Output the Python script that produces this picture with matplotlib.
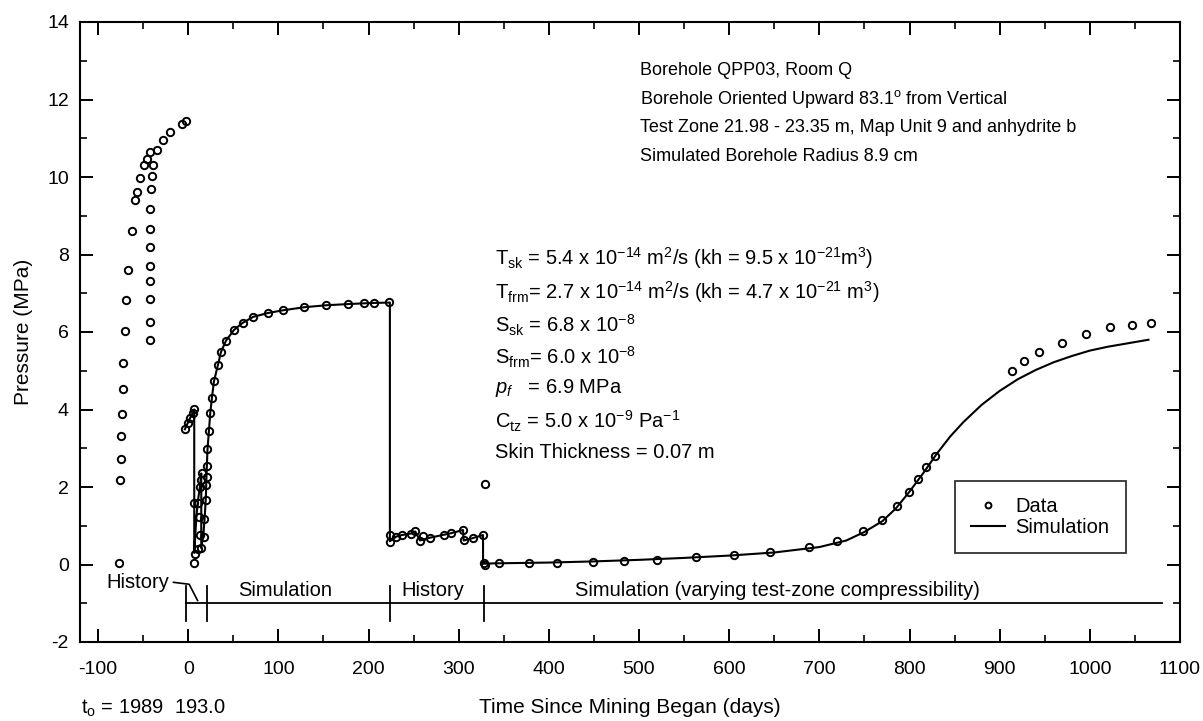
import matplotlib
matplotlib.use("Agg")
import matplotlib.pyplot as plt
from matplotlib.ticker import MultipleLocator

plt.rcParams['font.family'] = ['Liberation Sans', 'DejaVu Sans']
plt.rcParams['mathtext.fontset'] = 'custom'
plt.rcParams['mathtext.rm'] = 'Liberation Sans'
plt.rcParams['mathtext.it'] = 'Liberation Sans:italic'
plt.rcParams['mathtext.bf'] = 'Liberation Sans:bold'
plt.rcParams['axes.unicode_minus'] = False

# ---------------- data ----------------
# pre-mining build-up
pre_x = [-76.7, -75.2, -74.4, -74.1, -73.7, -72.2, -71.9, -70.4, -69.2, -66.7, -62.8,
         -58.5, -57.0, -53.3, -48.9, -45.9, -42.2, -34.1, -27.8, -20.4, -7.4, -2.6,
         -42.2, -42.6, -42.6, -42.2, -42.2, -42.2, -42.2, -42.2, -41.5, -40.4, -38.5]
pre_y = [0.03, 2.17, 2.72, 3.32, 3.88, 4.52, 5.21, 6.03, 6.83, 7.61, 8.61,
         9.40, 9.62, 9.97, 10.30, 10.46, 10.65, 10.69, 10.95, 11.15, 11.37, 11.44,
         5.79, 6.27, 6.84, 7.32, 7.71, 8.19, 8.67, 9.18, 9.68, 10.02, 10.31]
# first simulation period
early_x = [-3.7, -0.7, 1.9, 4.8, 6.7, 5.9, 7.4, 11.1, 14.1, 13.3, 17.0, 12.2, 17.8,
           6.7, 10.4, 19.6, 13.0, 19.6, 14.1, 20.7, 14.8, 20.3, 21.4, 23.0, 24.4,
           26.3, 28.5, 33.0, 36.3, 41.9, 50.7, 60.4, 72.2, 88.5, 104.8, 128.9,
           152.6, 177.0, 195.2, 205.6, 222.6]
early_y = [3.49, 3.64, 3.77, 3.90, 4.01, 0.03, 0.27, 0.39, 0.42, 0.76, 0.70, 1.23, 1.17,
           1.59, 1.59, 1.66, 1.99, 2.05, 2.18, 2.25, 2.37, 2.54, 2.97, 3.45, 3.92,
           4.29, 4.73, 5.15, 5.48, 5.78, 6.06, 6.24, 6.40, 6.49, 6.56, 6.64,
           6.70, 6.72, 6.75, 6.75, 6.77]
# history period
hist_x = [224.0, 224.0, 230.7, 237.0, 247.4, 251.9, 257.0, 260.4, 267.8, 284.0, 292.0,
          304.8, 305.5, 315.5, 327.0, 328.9]
hist_y = [0.76, 0.59, 0.72, 0.76, 0.80, 0.86, 0.61, 0.74, 0.69, 0.77, 0.81,
          0.89, 0.62, 0.68, 0.76, 2.07]
# final simulation period
late_x = [327.8, 329.0, 345.0, 378.0, 409.0, 448.7, 483.0, 520.0, 563.0, 605.0, 645.0,
          688.0, 719.5, 748.0, 770.0, 786.3, 799.5, 809.3, 818.7, 828.2, 913.3,
          927.4, 944.1, 968.9, 995.2, 1022.0, 1046.7, 1067.8]
late_y = [0.03, 0.00, 0.03, 0.03, 0.03, 0.06, 0.09, 0.12, 0.19, 0.24, 0.31,
          0.44, 0.61, 0.86, 1.14, 1.50, 1.86, 2.20, 2.52, 2.81, 4.99,
          5.24, 5.48, 5.72, 5.94, 6.13, 6.18, 6.23]

data_x = pre_x + early_x + hist_x + late_x
data_y = pre_y + early_y + hist_y + late_y

# simulation curve
sim_x = [-3.7, -0.7, 1.9, 4.8, 6.7, 6.7, 9.0, 10.5, 13.0, 14.5, 14.5, 17.0, 18.5,
         19.6, 20.3, 21.4, 23.0, 24.5, 26.3, 28.5, 33.0, 36.3, 42.0, 50.7, 60.0,
         72.0, 88.5, 105.0, 129.0, 153.0, 177.0, 195.0, 206.0, 223.7, 223.7,
         230.7, 237.0, 247.4, 251.9, 257.0, 267.8, 284.0, 292.0, 304.8, 305.5,
         315.5, 327.0, 327.0, 340.0, 400.0, 450.0, 500.0, 550.0, 600.0, 650.0,
         700.0, 730.0, 750.0, 770.0, 785.0, 800.0, 815.0, 830.0, 845.0, 860.0,
         880.0, 900.0, 920.0, 940.0, 960.0, 980.0, 1000.0, 1020.0, 1040.0, 1065.0]
sim_y = [3.49, 3.64, 3.77, 3.90, 4.00, 0.30, 1.20, 1.60, 2.00, 2.35, 0.42, 0.80, 1.30,
         1.75, 2.30, 2.97, 3.45, 3.92, 4.29, 4.72, 5.15, 5.48, 5.78, 6.05, 6.23,
         6.39, 6.49, 6.56, 6.64, 6.69, 6.72, 6.74, 6.75, 6.76, 0.60,
         0.72, 0.76, 0.80, 0.85, 0.62, 0.69, 0.77, 0.81, 0.89, 0.62,
         0.68, 0.76, 0.02, 0.03, 0.05, 0.08, 0.12, 0.17, 0.23, 0.31,
         0.45, 0.62, 0.84, 1.12, 1.45, 1.88, 2.35, 2.85, 3.30, 3.68,
         4.12, 4.48, 4.78, 5.02, 5.22, 5.38, 5.52, 5.62, 5.70, 5.80]

# phase bracket
phase_bounds = [-2.0, 21.0, 224.0, 328.0]
phase_line_end = 1080.0
phase_labels = ["Simulation", "History", "Simulation (varying test-zone compressibility)"]
phase_label_x = [108.0, 271.0, 654.0]

header_lines = ["Borehole QPP03, Room Q",
                "Borehole Oriented Upward 83.1$^{\\rm o}$ from Vertical",
                "Test Zone 21.98 - 23.35 m, Map Unit 9 and anhydrite b",
                "Simulated Borehole Radius 8.9 cm"]
param_lines = [r"T$_{\rm sk}$ = 5.4 x 10$^{-14}$ m$^2$/s (kh = 9.5 x 10$^{-21}$m$^3$)",
               r"T$_{\rm frm}$= 2.7 x 10$^{-14}$ m$^2$/s (kh = 4.7 x 10$^{-21}$ m$^3$)",
               r"S$_{\rm sk}$ = 6.8 x 10$^{-8}$",
               r"S$_{\rm frm}$= 6.0 x 10$^{-8}$",
               r"$p_f$   = 6.9 MPa",
               r"C$_{\rm tz}$ = 5.0 x 10$^{-9}$ Pa$^{-1}$",
               "Skin Thickness = 0.07 m"]
param_y = [7.90, 7.03, 6.18, 5.35, 4.55, 3.69, 2.88]
header_y = [12.76, 12.02, 11.28, 10.54]

FS = 14.5
FS_HEAD = 13

# ---------------- figure ----------------
fig = plt.figure(figsize=(12.03, 7.21), dpi=100, facecolor='white')
ax = fig.add_axes([80/1203, 79/721, 1100/1203, 620/721])
ax.set_facecolor('white')

ax.plot(sim_x, sim_y, color='black', lw=1.5, label='Simulation', zorder=2)
ax.plot(data_x, data_y, ls='none', marker='o', ms=5.3, mfc='none', mec='black',
        mew=1.4, label='Data', zorder=3)

# phase bracket
ax.plot([phase_bounds[0], phase_line_end], [-1.0, -1.0], color='black', lw=1.3)
for b in phase_bounds:
    ax.plot([b, b], [-0.55, -1.45], color='black', lw=1.3)
for lab, lx in zip(phase_labels, phase_label_x):
    ax.text(lx, -0.68, lab, ha='center', va='center', fontsize=FS)
ax.text(-55.5, -0.47, "History", ha='center', va='center', fontsize=FS)
ax.plot([-16.3, 1.1, 10.4], [-0.46, -0.51, -0.93], color='black', lw=1.2)

for t, y in zip(header_lines, header_y):
    ax.text(501, y, t, ha='left', va='center', fontsize=FS_HEAD)
for t, y in zip(param_lines, param_y):
    ax.text(340, y, t, ha='left', va='center', fontsize=FS)

ax.set_xlim(-120, 1100)
ax.set_ylim(-2, 14)
ax.xaxis.set_major_locator(MultipleLocator(100))
ax.xaxis.set_minor_locator(MultipleLocator(50))
ax.yaxis.set_major_locator(MultipleLocator(2))
ax.yaxis.set_minor_locator(MultipleLocator(1))
ax.tick_params(which='both', direction='in', top=True, right=True, labelsize=14)
ax.tick_params(which='major', length=9.5, width=1.4)
ax.tick_params(which='minor', length=5, width=1.2)
ax.tick_params(axis='x', which='major', pad=14)
ax.tick_params(axis='y', which='major', pad=8)
for s in ax.spines.values():
    s.set_linewidth(1.5)

ax.set_xlabel("Time Since Mining Began (days)", fontsize=15, labelpad=14)
ax.set_ylabel("Pressure (MPa)", fontsize=15, labelpad=10)
fig.text(81/1203, 1 - 708/721, r"t$_{\rm o}$ = 1989  193.0", fontsize=FS,
         ha='left', va='center')

handles, labels = ax.get_legend_handles_labels()
leg = ax.legend(handles[::-1], labels[::-1], loc='upper left',
                bbox_to_anchor=(0.7955, 0.26), frameon=True, fancybox=False,
                edgecolor='black', fontsize=FS, handlelength=1.7,
                borderpad=0.8, labelspacing=0.12, markerscale=0.8,
                handletextpad=0.5, borderaxespad=0)
leg.get_frame().set_linewidth(1.3)

fig.savefig("out.png", dpi=100, facecolor='white')
